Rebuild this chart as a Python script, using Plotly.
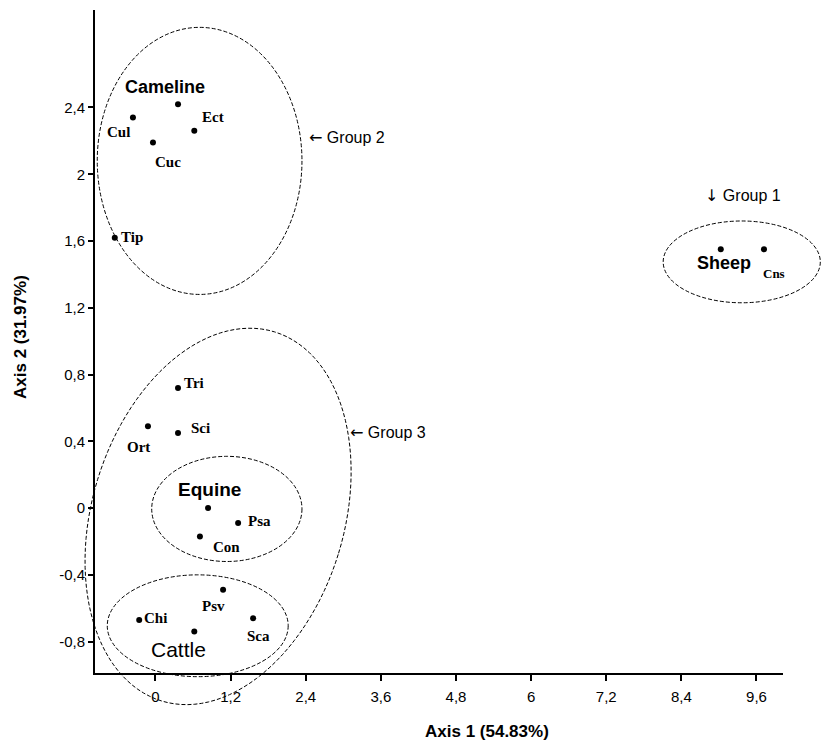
import numpy as np
import plotly.graph_objects as go

# ---------------- data ----------------
names = ["Cameline", "Cul", "Cuc", "Ect", "Tip", "Tri", "Sci", "Ort", "Equine",
         "Psa", "Con", "Psv", "Chi", "Cattle", "Sca", "Sheep", "Cns"]
axis1 = [0.36, -0.36, -0.04, 0.62, -0.65, 0.36, 0.36, -0.12, 0.84,
         1.32, 0.71, 1.08, -0.26, 0.62, 1.56, 9.03, 9.72]
axis2 = [2.42, 2.34, 2.19, 2.26, 1.62, 0.72, 0.45, 0.49, 0.00,
         -0.09, -0.17, -0.49, -0.67, -0.74, -0.66, 1.55, 1.55]
host_names = ["Cameline", "Equine", "Cattle", "Sheep"]

x_tickvals = [0, 1.2, 2.4, 3.6, 4.8, 6, 7.2, 8.4, 9.6]
x_ticktext = ["0", "1,2", "2,4", "3,6", "4,8", "6", "7,2", "8,4", "9,6"]
y_tickvals = [-0.8, -0.4, 0, 0.4, 0.8, 1.2, 1.6, 2.0, 2.4]
y_ticktext = ["-0,8", "-0,4", "0", "0,4", "0,8", "1,2", "1,6", "2", "2,4"]

group_arrows = ["\u2190", "\u2190", "\u2193"]
group_labels = ["Group 2", "Group 3", "Group 1"]
group_x = [2.42, 3.08, 8.75]
group_y = [2.22, 0.45, 1.87]

# ---------------- layout geometry ----------------
W, H = 836, 746
ML, MR, MT, MB = 95, 53, 10, 73
XR = [-0.966, 10.024]
YR = [-0.988, 2.984]
PW, PH = W - ML - MR, H - MT - MB
PXX = PW / (XR[1] - XR[0])
PXY = PH / (YR[1] - YR[0])


def px(x):
    return (x - XR[0]) / (XR[1] - XR[0])


def py(y):
    return (y - YR[0]) / (YR[1] - YR[0])


SANS = "Liberation Sans, Arial, sans-serif"
SERIF = "Liberation Serif, Times New Roman, serif"

fig = go.Figure()
fig.add_trace(go.Scatter(x=axis1, y=axis2, mode="markers",
                         marker=dict(size=6, color="black"),
                         hoverinfo="text", text=names, showlegend=False))

# label offsets (pixels) and anchors
label_style = {
    "Cameline": (-55, 17, "left"),
    "Cul": (-14, -14, "center"),
    "Cuc": (15, -19, "center"),
    "Ect": (6, 14, "left"),
    "Tip": (4, 1, "left"),
    "Tri": (4, 5, "left"),
    "Sci": (11, 5, "left"),
    "Ort": (-9, -21, "center"),
    "Equine": (-32, 19, "left"),
    "Psa": (8, 2, "left"),
    "Con": (11, -11, "left"),
    "Psv": (-10, -16, "center"),
    "Chi": (3, 2, "left"),
    "Cattle": (-16, -18, "center"),
    "Sca": (5, -18, "center"),
    "Sheep": (3, -14, "center"),
    "Cns": (10, -24, "center"),
}

annotations = []
for n, xv, yv in zip(names, axis1, axis2):
    xs, ys, anc = label_style[n]
    if n in host_names:
        size = {"Cattle": 21, "Equine": 19, "Sheep": 18, "Cameline": 18}[n]
        font = dict(family=SANS, size=size, color="black")
    elif n == "Cns":
        font = dict(family=SERIF, size=13, color="black")
    else:
        font = dict(family=SERIF, size=15, color="black")
    txt = n if n == "Cattle" else f"<b>{n}</b>"
    annotations.append(dict(x=xv, y=yv, xref="x", yref="y", text=txt, showarrow=False,
                            xanchor=anc, yanchor="middle", xshift=xs, yshift=ys, font=font))

for ar, t, gx, gy in zip(group_arrows, group_labels, group_x, group_y):
    txt = f"<span style='font-family:DejaVu Sans'>{ar}</span> {t}"
    annotations.append(dict(x=gx, y=gy, xref="x", yref="y", text=txt, showarrow=False,
                            xanchor="left", yanchor="middle",
                            font=dict(family=SANS, size=16, color="black")))

# axis titles
annotations.append(dict(x=(487 - ML) / PW, y=-(732 - MT - PH) / PH, xref="paper", yref="paper",
                        text="<b>Axis 1 (54.83%)</b>", showarrow=False, xanchor="center", yanchor="middle",
                        font=dict(family=SANS, size=17, color="black")))
annotations.append(dict(x=(20 - ML) / PW, y=1 - (337 - MT) / PH, xref="paper", yref="paper",
                        text="<b>Axis 2 (31.97%)</b>", showarrow=False, textangle=-90,
                        xanchor="center", yanchor="middle",
                        font=dict(family=SANS, size=17, color="black")))

# ---------------- ellipses (drawn in paper coords so they are not clipped) ----------------
dash_line = dict(color="black", width=1, dash="4px,2px")
ellipses = [  # x0, x1, y0, y1 in data units
    (-0.93, 2.34, 1.28, 2.88),    # Group 2 (Cameline)
    (-0.06, 2.34, -0.32, 0.31),   # Equine
    (-0.77, 2.12, -1.01, -0.40),  # Cattle
    (8.11, 10.62, 1.23, 1.72),    # Group 1 (Sheep)
]
shapes = []
for x0, x1, y0, y1 in ellipses:
    shapes.append(dict(type="circle", xref="paper", yref="paper",
                       x0=px(x0), x1=px(x1), y0=py(y0), y1=py(y1), line=dash_line))

# Group 3: tilted ellipse
cx, cy, a_px, b_px, tilt = 1.0, -0.05, 193, 126, np.deg2rad(17)
t = np.linspace(0, 2 * np.pi, 121)
dx = b_px * np.cos(t) * np.cos(tilt) + a_px * np.sin(t) * np.sin(tilt)
dy = -b_px * np.cos(t) * np.sin(tilt) + a_px * np.sin(t) * np.cos(tilt)
ex = px(cx + dx / PXX)
ey = py(cy + dy / PXY)
path = "M " + " L ".join(f"{u:.5f},{v:.5f}" for u, v in zip(ex, ey)) + " Z"
shapes.append(dict(type="path", xref="paper", yref="paper", path=path, line=dash_line))

fig.update_layout(
    width=W, height=H,
    margin=dict(l=ML, r=MR, t=MT, b=MB),
    plot_bgcolor="white", paper_bgcolor="white",
    separators=",.",
    annotations=annotations, shapes=shapes,
    xaxis=dict(range=XR, showgrid=False, zeroline=False, showline=True, linecolor="black",
               linewidth=2, ticks="outside", ticklen=6, tickwidth=2, tickcolor="black",
               tickvals=x_tickvals, ticktext=x_ticktext, ticklabelstandoff=3,
               tickfont=dict(family=SANS, size=15, color="black")),
    yaxis=dict(range=YR, showgrid=False, zeroline=False, showline=True, linecolor="black",
               linewidth=2, ticks="outside", ticklen=5, tickwidth=2, tickcolor="black",
               tickvals=y_tickvals, ticktext=y_ticktext,
               tickfont=dict(family=SANS, size=15, color="black")),
)

fig.write_html("out.html", config={"displayModeBar": False},
               post_script="document.body.style.margin='0';document.body.style.overflow='hidden';")
